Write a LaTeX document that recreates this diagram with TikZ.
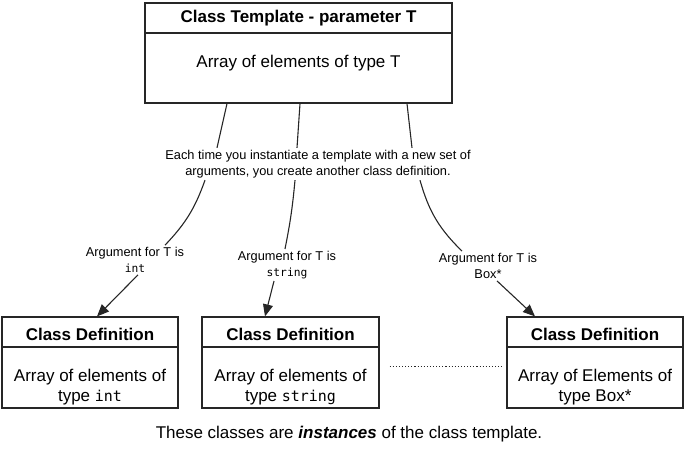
\documentclass[tikz,border=0pt]{standalone}
\usepackage{fontspec}
\setmainfont{Liberation Sans}
\setmonofont[Scale=0.88]{DejaVu Sans Mono}
\usepackage{tikz}
\usetikzlibrary{arrows.meta}

\begin{document}
\begin{tikzpicture}[x=1pt,y=-1pt,
  box/.style={draw=black!85,line width=1.2pt,minimum height=91pt,inner sep=0pt},
  line/.style={draw=black!85,line width=1.1pt},
  arr/.style={line,-{Triangle[length=12pt,width=10pt]}},
  title/.style={font=\bfseries\fontsize{17}{20}\selectfont},
  body/.style={font=\fontsize{17}{20}\selectfont,align=center},
  small/.style={font=\fontsize{12.8}{16}\selectfont,align=center,inner sep=2pt}]
\useasboundingbox (0,0) rectangle (685,450);
\node[box,minimum width=307pt,minimum height=100pt] (tmpl) at (298.5,53) {};
\draw[line,line width=1.2pt] (tmpl.west |- 0,33) -- (tmpl.east |- 0,33);
\node[title] (tmpltitle) at (298.5,18) {Class Template - parameter T};
\node[body] (tmplbody) at (298.5,63) {Array of elements of type T};
\node[box,minimum width=176pt] (def1) at (90,362.5) {};
\node[box,minimum width=177pt] (def2) at (290.5,362.5) {};
\node[box,minimum width=176pt] (def3) at (595,362.5) {};
\draw[line,line width=1.2pt] (def1.west |- 0,347) -- (def1.east |- 0,347);
\draw[line,line width=1.2pt] (def2.west |- 0,347) -- (def2.east |- 0,347);
\draw[line,line width=1.2pt] (def3.west |- 0,347) -- (def3.east |- 0,347);
\node[title] (def1title) at (90,334) {Class Definition};
\node[title] (def2title) at (290.5,334) {Class Definition};
\node[title] (def3title) at (595,334) {Class Definition};
\node[body] (def1body) at (90,387) {Array of elements of\\type \texttt{int}};
\node[body] (def2body) at (290.5,387) {Array of elements of\\type \texttt{string}};
\node[body] (def3body) at (595,387) {Array of Elements of\\type Box*};
\node[small] (note) at (318,164) {Each time you instantiate a template with a new set of\\arguments, you create another class definition.};
\node[small] (argint) at (135,260) {Argument for T is\\\texttt{int}};
\node[small] (argstr) at (287,265) {Argument for T is\\\texttt{string}};
\node[small] (argbox) at (488,266) {Argument for T is\\Box*};
\draw[line] ([xshift=-71.5pt]tmpl.south) -- ([xshift=-101pt]note.north);
\draw[line] ([xshift=1.5pt]tmpl.south) -- ([xshift=-21pt]note.north);
\draw[line] ([xshift=108.5pt]tmpl.south) -- ([xshift=94pt]note.north);
\draw[line] ([xshift=-113pt]note.south) to[bend left=12] ([xshift=30pt]argint.north);
\draw[line] ([xshift=-23pt]note.south) to[bend left=3] ([xshift=-2pt]argstr.north);
\draw[line] ([xshift=102pt]note.south) to[bend right=15] ([xshift=-26pt]argbox.north);
\draw[arr] ([xshift=3pt]argint.south) -- ([xshift=7pt]def1.north);
\draw[arr] ([xshift=-13pt]argstr.south) -- ([xshift=-25.5pt]def2.north);
\draw[arr] ([xshift=9pt]argbox.south) -- ([xshift=-60pt]def3.north);
\draw[line,dotted,line width=0.9pt,shorten <=10pt,shorten >=4pt] ([yshift=-3.5pt]def2.east) -- ([yshift=-3.5pt]def3.west);
\node[body] (caption) at (349,434) {These classes are \textbf{\textit{instances}} of the class template.};
\end{tikzpicture}
\end{document}
